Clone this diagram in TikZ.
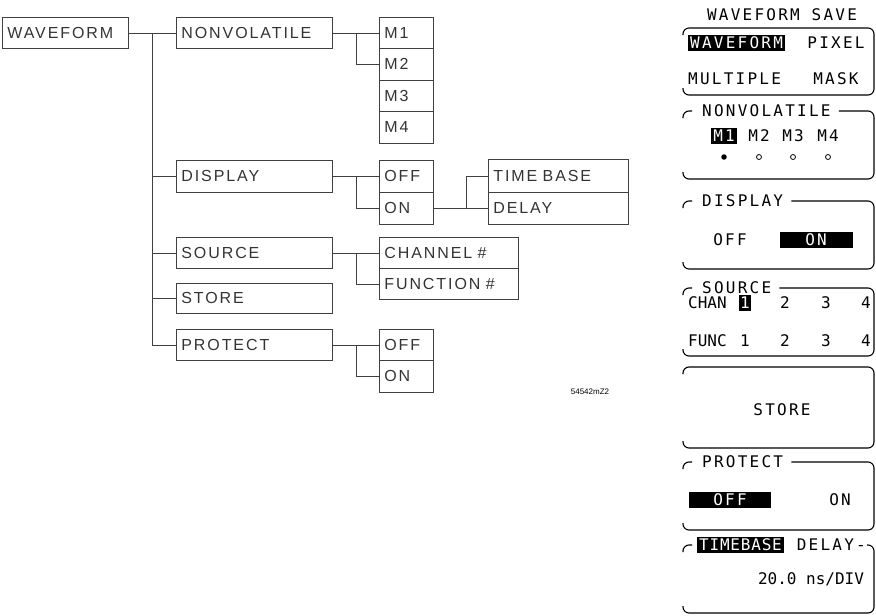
\documentclass[tikz,border=0pt]{standalone}
\usepackage{fontspec}
\setmainfont{Liberation Sans}
\newfontfamily\treefont{Liberation Sans}[LetterSpace=12]
\newfontfamily\panelfont{DejaVu Sans Mono}[LetterSpace=14]
\newfontfamily\panelnarrow{DejaVu Sans Mono}[LetterSpace=5]
\newfontfamily\paneltight{DejaVu Sans Mono}
\usetikzlibrary{calc}
\begin{document}
\begin{tikzpicture}[x=1pt,y=-1pt,
  tbox/.style={draw=black!75, line width=0.7pt, font=\treefont\fontsize{16}{18}\selectfont,
    text=black!80, inner xsep=5pt, inner ysep=0pt, anchor=north west, align=left},
  conn/.style={draw=black!75, line width=0.7pt},
  pan/.style={draw=black, line width=1.1pt, rounded corners=6pt},
  ptxt/.style={font=\panelfont\fontsize{16}{18}\selectfont, inner sep=0pt, text=black},
  ptight/.style={ptxt, font=\paneltight\fontsize{16}{18}\selectfont},
  ptitle/.style={ptxt, anchor=west, inner xsep=8pt},
  hl/.style={ptxt, fill=black, text=white, inner xsep=2pt, inner ysep=2pt, minimum height=15pt},
  fdot/.style={circle, fill=black, inner sep=0pt, minimum size=5.5pt},
  odot/.style={circle, draw=black, line width=0.8pt, inner sep=0pt, minimum size=5pt}]
\useasboundingbox (0,0) rectangle (876,616);

% ---------------- left tree ----------------
\node[tbox, text width=116pt, minimum height=31pt] (wf) at (2,17) {WAVEFORM};
\node[tbox, text width=146pt, minimum height=31pt] (nv) at (176,17) {NONVOLATILE};
\node[tbox, text width=44pt, minimum height=31pt] (m1) at (379,17) {M1};
\node[tbox, text width=44pt, minimum height=31.5pt] (m2) at (379,48) {M2};
\node[tbox, text width=44pt, minimum height=31.5pt] (m3) at (379,79.5) {M3};
\node[tbox, text width=44pt, minimum height=32pt] (m4) at (379,111) {M4};

\node[tbox, text width=146pt, minimum height=32pt] (dsp) at (176,160) {DISPLAY};
\node[tbox, text width=44pt, minimum height=32pt] (doff) at (379,160) {OFF};
\node[tbox, text width=44pt, minimum height=32pt] (don) at (379,192) {ON};
\node[tbox, text width=130pt, minimum height=33pt] (tb) at (488,159) {TIME BASE};
\node[tbox, text width=130pt, minimum height=32pt] (dl) at (488,192) {DELAY};

\node[tbox, text width=146pt, minimum height=31pt] (src) at (176,237) {SOURCE};
\node[tbox, text width=129pt, minimum height=31pt] (ch) at (379,237) {CHANNEL \#};
\node[tbox, text width=129pt, minimum height=31pt] (fn) at (379,268) {FUNCTION \#};

\node[tbox, text width=146pt, minimum height=30pt] (sto) at (176,283) {STORE};

\node[tbox, text width=146pt, minimum height=31pt] (pro) at (176,329) {PROTECT};
\node[tbox, text width=44pt, minimum height=31pt] (poff) at (379,329) {OFF};
\node[tbox, text width=44pt, minimum height=32pt] (pon) at (379,360) {ON};

\coordinate (tr) at ($(wf.east)!0.5!(nv.west)$);
\draw[conn] (wf.east) -- (nv.west);
\draw[conn] (tr) |- (pro.west);
\draw[conn] (tr |- dsp.west) -- (dsp.west);
\draw[conn] (tr |- src.west) -- (src.west);
\draw[conn] (tr |- sto.west) -- (sto.west);

\coordinate (j1) at ($(nv.east)!0.5!(m1.west)$);
\draw[conn] (nv.east) -- (m1.west);
\draw[conn] (j1) |- (m2.west);

\coordinate (j2) at ($(dsp.east)!0.5!(doff.west)$);
\draw[conn] (dsp.east) -- (doff.west);
\draw[conn] (j2) |- (don.west);

\coordinate (j3) at ($(don.east)!0.6!(dl.west)$);
\draw[conn] (don.east) -- (dl.west);
\draw[conn] (j3) |- (tb.west);

\coordinate (j4) at ($(src.east)!0.5!(ch.west)$);
\draw[conn] (src.east) -- (ch.west);
\draw[conn] (j4) |- (fn.west);

\coordinate (j5) at ($(pro.east)!0.5!(poff.west)$);
\draw[conn] (pro.east) -- (poff.west);
\draw[conn] (j5) |- (pon.west);

\node[font=\fontsize{8}{9}\selectfont, inner sep=0pt] (code) at (590,392) {54542mZ2};

% ---------------- right panels ----------------
\node[ptxt] (wst) at (782,15) {WAVEFORM SAVE};

% panel 1
\draw[pan] (683,35) -- (683,28) -- (874,28) -- (874,95) -- (683,95) -- (683,88);
\node[hl, anchor=west] (p1a) at (688,43) {WAVEFORM};
\node[ptxt] (p1b) at (836,43) {PIXEL};
\node[ptxt, anchor=west] (p1c) at (688,79) {MULTIPLE};
\node[ptxt] (p1d) at (836,79) {MASK};

% panel 2
\node[ptitle] (t2) at (694,111) {NONVOLATILE};
\draw[pan] (683,118) -- (683,111) -- (692,111);
\draw[pan] (t2.east) -- (874,111) -- (874,179) -- (683,179) -- (683,172);
\node[hl] (p2a) at (724,136) {M1};
\node[ptxt] (p2b) at (759,136) {M2};
\node[ptxt] (p2c) at (793,136) {M3};
\node[ptxt] (p2d) at (828,136) {M4};
\node[fdot] (d1) at (724,157) {};
\node[odot] (d2) at (759,157) {};
\node[odot] (d3) at (793,157) {};
\node[odot] (d4) at (828,157) {};

% panel 3
\node[ptitle] (t3) at (694,201) {DISPLAY};
\draw[pan] (683,208) -- (683,201) -- (692,201);
\draw[pan] (t3.east) -- (874,201) -- (874,269) -- (683,269) -- (683,262);
\node[ptxt] (p3a) at (730,240) {OFF};
\node[hl, minimum width=73pt] (p3b) at (816,240) {ON};

% panel 4
\node[ptitle] (t4) at (694,288) {SOURCE};
\draw[pan] (683,295) -- (683,288) -- (692,288);
\draw[pan] (t4.east) -- (874,288) -- (874,356) -- (683,356) -- (683,349);
\node[ptight, anchor=west] (p4a) at (688,303) {CHAN};
\node[hl, inner xsep=1pt] (p4b) at (745,303) {1};
\node[ptxt] (p4c) at (785,303) {2};
\node[ptxt] (p4d) at (826,303) {3};
\node[ptxt] (p4e) at (866,303) {4};
\node[ptight, anchor=west] (p4f) at (688,341) {FUNC};
\node[ptxt] (p4g) at (745,341) {1};
\node[ptxt] (p4h) at (785,341) {2};
\node[ptxt] (p4i) at (826,341) {3};
\node[ptxt] (p4j) at (866,341) {4};

% panel 5
\draw[pan] (683,374) -- (683,367) -- (874,367) -- (874,448) -- (683,448) -- (683,441);
\node[ptxt] (p5a) at (782,410) {STORE};

% panel 6
\node[ptitle] (t6) at (694,462) {PROTECT};
\draw[pan] (683,469) -- (683,462) -- (692,462);
\draw[pan] (t6.east) -- (874,462) -- (874,530) -- (683,530) -- (683,523);
\node[hl, minimum width=82pt] (p6a) at (730,500) {OFF};
\node[ptxt] (p6b) at (840,500) {ON};

% panel 7
\draw[pan] (683,552) -- (683,545) -- (692,545);
\node[hl, anchor=west, font=\panelnarrow\fontsize{16}{18}\selectfont] (t7a) at (697,545) {TIMEBASE};
\node[ptxt, anchor=east, inner xsep=1pt] (t7b) at (867,545) {DELAY-};
\draw[pan] (t7b.east) -- (874,545) -- (874,613) -- (683,613) -- (683,606);
\node[ptight] (p7a) at (811,579) {20.0 ns/DIV};
\end{tikzpicture}
\end{document}
